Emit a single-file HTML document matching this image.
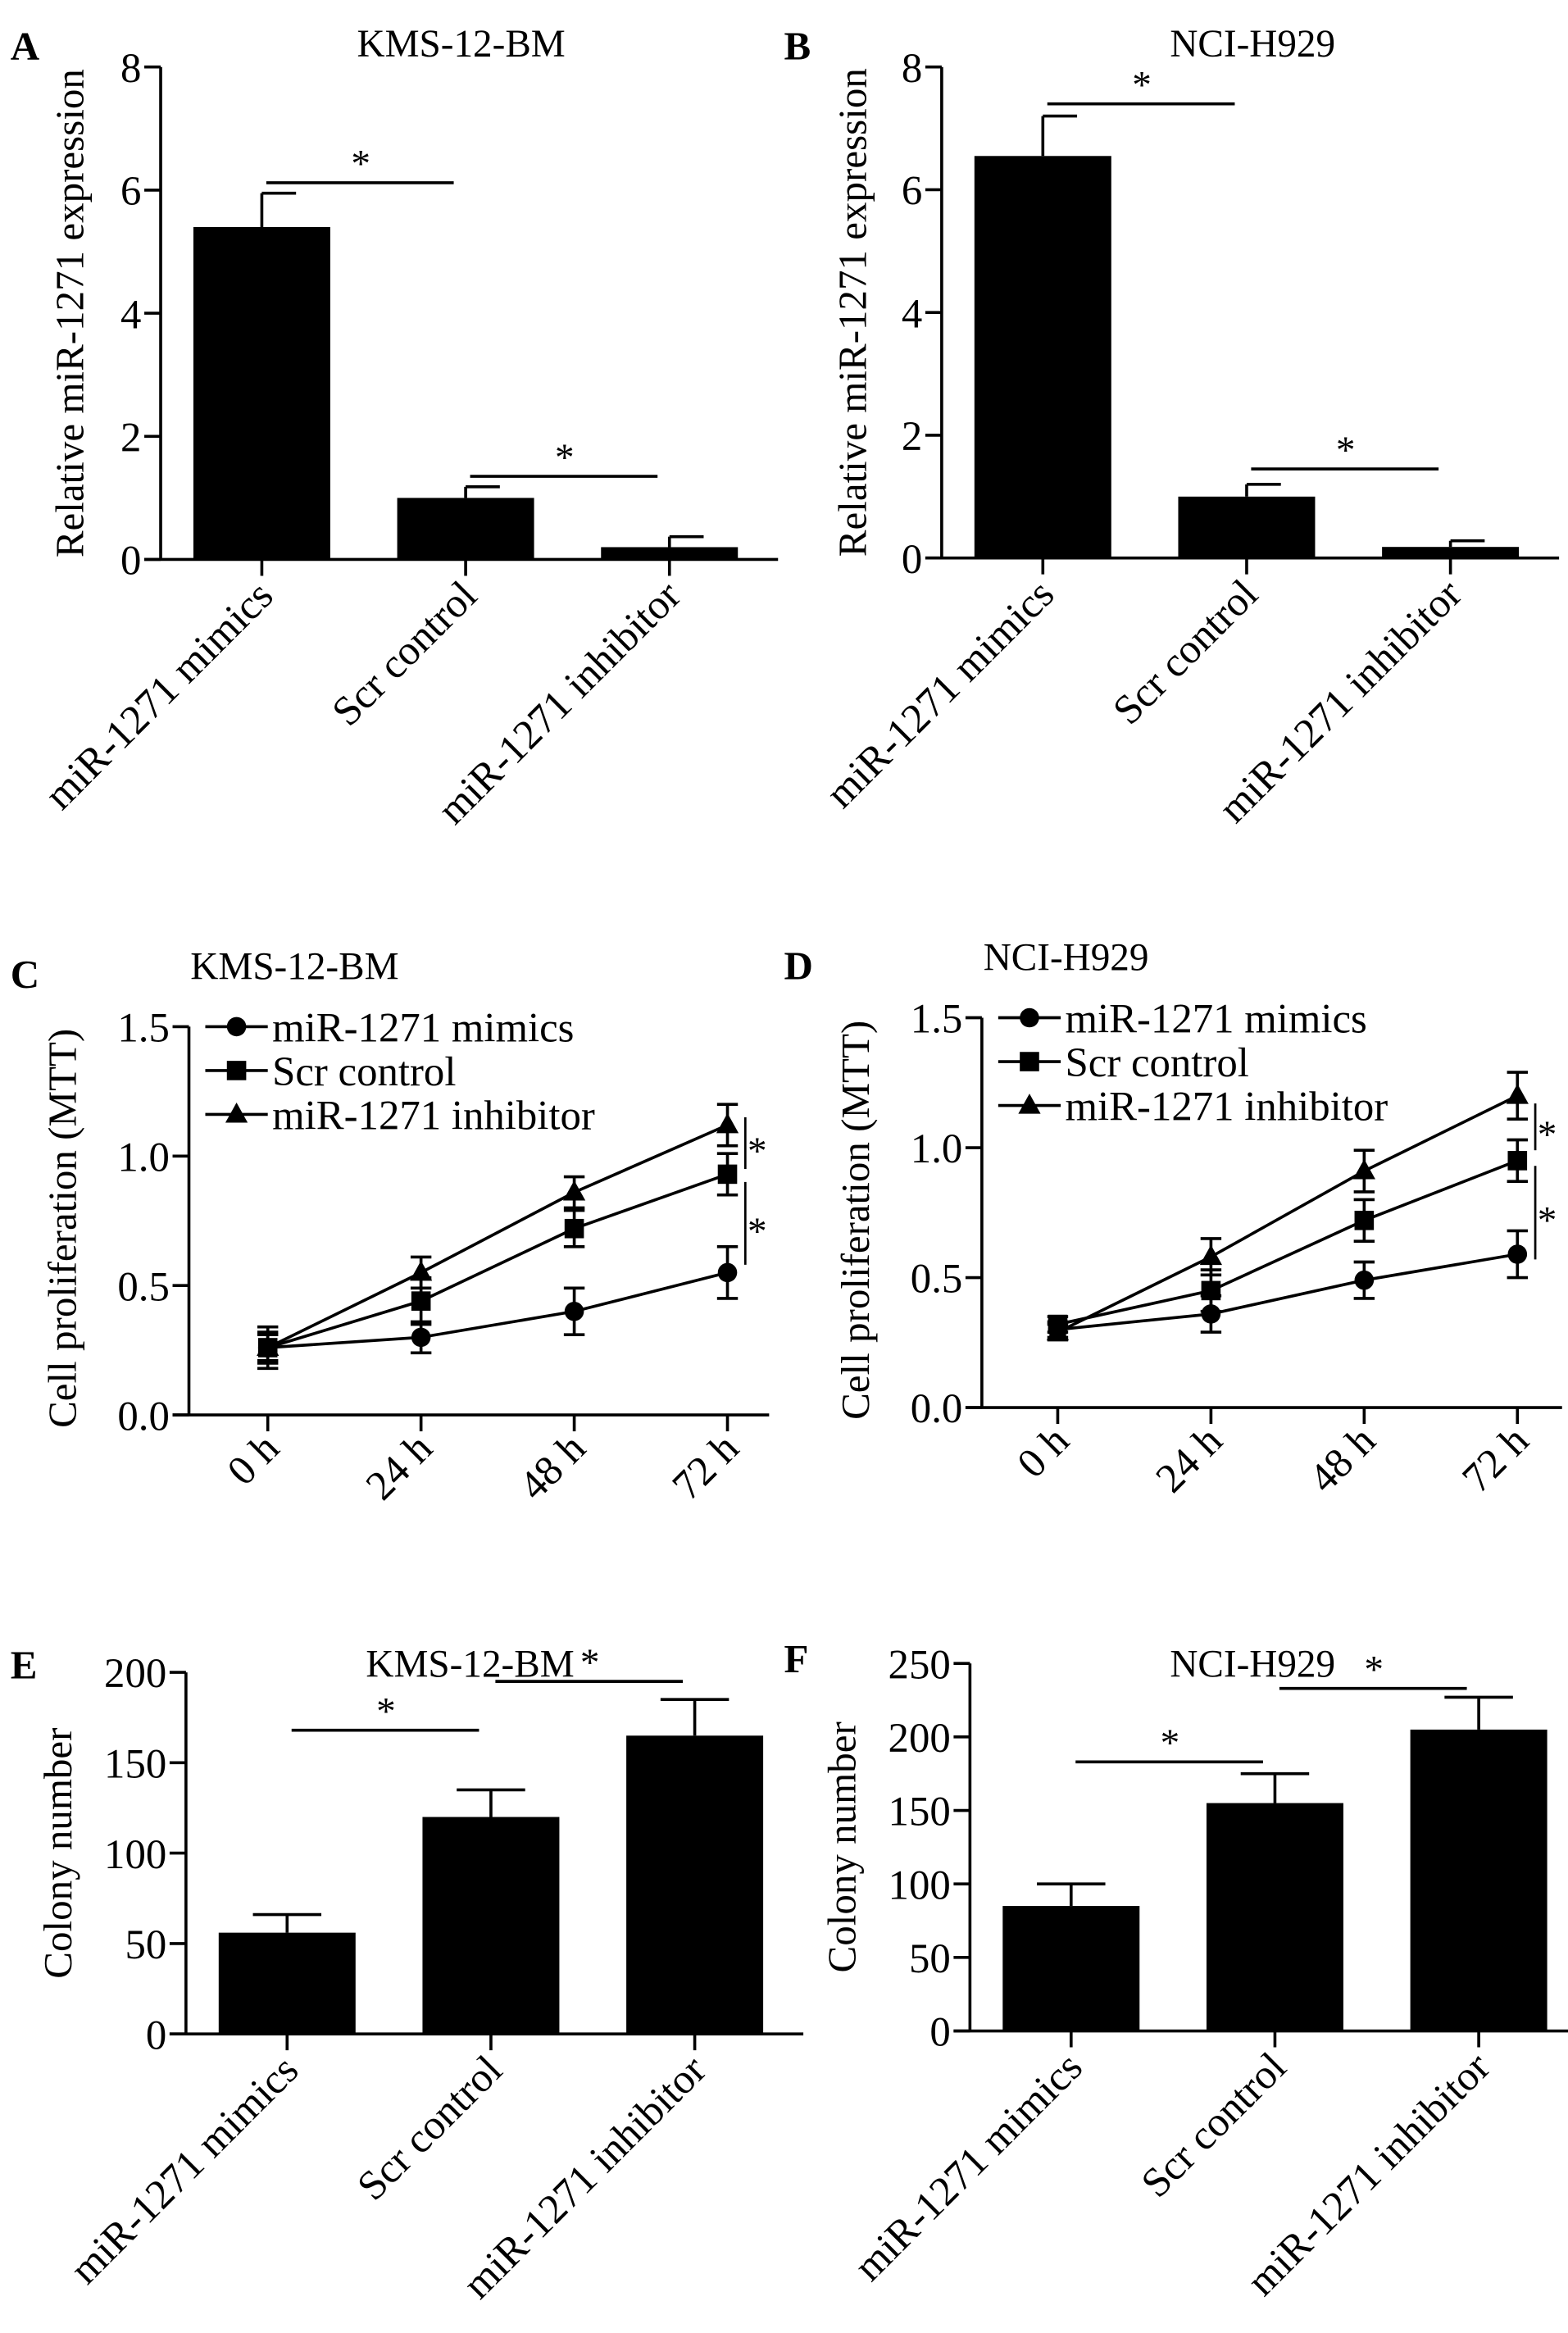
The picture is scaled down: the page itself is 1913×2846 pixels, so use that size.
<!DOCTYPE html>
<html><head><meta charset="utf-8"><style>
html,body{margin:0;padding:0;background:#fff}
svg{display:block}
text{font-family:"Liberation Serif",serif;fill:#000}
</style></head><body>
<svg id="fig" width="1913" height="2846" viewBox="0 0 1054 1568" xmlns="http://www.w3.org/2000/svg"></svg>
<script>
// ---- data ----
const barCategories = ["miR-1271 mimics","Scr control","miR-1271 inhibitor"];
const exprKMS = [5.4, 1.0, 0.2];
const exprKMSErr = [0.55, 0.18, 0.17];
const exprNCI = [6.55, 1.0, 0.18];
const exprNCIErr = [0.65, 0.2, 0.1];
const exprTicks = [0,2,4,6,8];
const timeLabels = ["0 h","24 h","48 h","72 h"];
const mttKMSMimics = [0.26,0.30,0.40,0.55];
const mttKMSMimicsErr = [0.06,0.06,0.09,0.10];
const mttKMSScr = [0.26,0.44,0.72,0.93];
const mttKMSScrErr = [0.08,0.09,0.07,0.08];
const mttKMSInh = [0.26,0.55,0.86,1.12];
const mttKMSInhErr = [0.05,0.06,0.06,0.08];
const mttNCIMimics = [0.30,0.36,0.49,0.59];
const mttNCIMimicsErr = [0.03,0.07,0.07,0.09];
const mttNCIScr = [0.32,0.45,0.72,0.95];
const mttNCIScrErr = [0.03,0.08,0.08,0.08];
const mttNCIInh = [0.29,0.58,0.91,1.20];
const mttNCIInhErr = [0.03,0.07,0.08,0.09];
const mttTicks = ["0.0","0.5","1.0","1.5"];
const colKMS = [56,120,165];
const colKMSErr = [10,15,20];
const colNCI = [85,155,205];
const colNCIErr = [15,20,22];
const colKMSTicks = [0,50,100,150,200];
const colNCITicks = [0,50,100,150,200,250];

const NS="http://www.w3.org/2000/svg";
const svg=document.getElementById('fig');
const FF='"Liberation Serif", serif';
function el(tag,attrs,parent){const e=document.createElementNS(NS,tag);for(const k in attrs)e.setAttribute(k,attrs[k]);(parent||svg).appendChild(e);return e;}
function txt(s,attrs,parent){attrs['font-family']=FF;const t=el('text',attrs,parent);t.textContent=s;return t;}

function barPanel(o){
  const g=el('g',{});
  
  
  const ymax=o.ticks[o.ticks.length-1];
  const Y=v=>o.y0-(v/ymax)*(o.y0-o.yTop);
  const X=i=>o.ax+68+i*137;
  const l=txt(o.letter,{x:o.lx,y:o.ly,'font-size':27,'font-weight':'bold'},g);
  
  const t=txt(o.title,{x:o.titleX,y:o.titleY,'font-size':26,'text-anchor':'middle'},g);
  
  o.vals.forEach((v,i)=>{
    const r=el('rect',{x:X(i)-46,y:Y(v),width:92,height:o.y0-Y(v),fill:'#000'},g);
    
    const top=Y(v+o.errs[i]);
    el('line',{x1:X(i),x2:X(i),y1:Y(v),y2:top,stroke:'#000','stroke-width':2},g);
    const c1=o.capMode==='right'?X(i):X(i)-23;
    el('line',{x1:c1,x2:X(i)+23,y1:top,y2:top,stroke:'#000','stroke-width':2},g);
  });
  const ya=el('line',{x1:o.ax,x2:o.ax,y1:o.yTop,y2:o.y0,stroke:'#000','stroke-width':2},g);
  
  const xa=el('line',{x1:o.ax-11,x2:o.ax+415,y1:o.y0,y2:o.y0,stroke:'#000','stroke-width':2},g);
  
  o.ticks.forEach(v=>{
    el('line',{x1:o.ax-11,x2:o.ax,y1:Y(v),y2:Y(v),stroke:'#000','stroke-width':2},g);
    const tl=txt(String(v),{x:o.ax-13,y:Y(v)+10,'font-size':28,'text-anchor':'end'},g);
    
  });
  barCategories.forEach((c,i)=>{
    el('line',{x1:X(i),x2:X(i),y1:o.y0,y2:o.y0+11,stroke:'#000','stroke-width':2},g);
    const px=X(i)+9,py=o.y0+26;
    const tl=txt(c,{x:px,y:py,'font-size':28,'text-anchor':'end',transform:`rotate(-45 ${px} ${py})`},g);
    
  });
  const yt=txt(o.ytitle,{x:0,y:0,'font-size':27,'text-anchor':'middle',transform:`translate(${o.ytX} ${(o.yTop+o.y0)/2}) rotate(-90)`},g);
  
  o.sig.forEach(s=>{
    const y=Y(s.v);
    const sl=el('line',{x1:X(s.a)+3,x2:X(s.b)-8,y1:y,y2:y,stroke:'#000','stroke-width':2},g);
    
    txt('*',{x:(X(s.a)+X(s.b))/2-2,y:y-4,'font-size':26,'text-anchor':'middle'},g);
  });
}

barPanel({name:'panel-a',letter:'A',lx:7,ly:40,title:'KMS-12-BM',titleX:310,titleY:38,ax:108,y0:376,yTop:45,ticks:exprTicks,vals:exprKMS,errs:exprKMSErr,capMode:'right',ytitle:'Relative miR-1271 expression',ytX:56,sig:[{a:0,b:1,v:6.12},{a:1,b:2,v:1.35}]});
barPanel({name:'panel-b',letter:'B',lx:527,ly:40,title:'NCI-H929',titleX:842,titleY:38,ax:633,y0:375,yTop:45,ticks:exprTicks,vals:exprNCI,errs:exprNCIErr,capMode:'right',ytitle:'Relative miR-1271 expression',ytX:582,sig:[{a:0,b:1,v:7.4},{a:1,b:2,v:1.45}]});
barPanel({name:'panel-e',letter:'E',lx:7,ly:1128,title:'KMS-12-BM',titleX:316,titleY:1127,ax:125,y0:1367,yTop:1124,ticks:colKMSTicks,vals:colKMS,errs:colKMSErr,capMode:'center',ytitle:'Colony number',ytX:48,sig:[{a:0,b:1,v:168},{a:1,b:2,v:195}]});
barPanel({name:'panel-f',letter:'F',lx:527,ly:1124,title:'NCI-H929',titleX:842,titleY:1127,ax:652,y0:1365,yTop:1118,ticks:colNCITicks,vals:colNCI,errs:colNCIErr,capMode:'center',ytitle:'Colony number',ytX:575,sig:[{a:0,b:1,v:183},{a:1,b:2,v:233}]});

function linePanel(o){
  const g=el('g',{});
  
  
  const Y=v=>o.y0-(v/1.5)*(o.y0-o.yTop);
  const X=i=>o.ax+o.off+i*103;
  const l=txt(o.letter,{x:o.lx,y:o.yTop-26,'font-size':27,'font-weight':'bold'},g);
  
  const t=txt(o.title,{x:o.ax+1,y:o.yTop-32,'font-size':26},g);
  
  const ya=el('line',{x1:o.ax,x2:o.ax,y1:o.yTop,y2:o.y0,stroke:'#000','stroke-width':2},g);
  
  const xa=el('line',{x1:o.ax-11,x2:o.ax+390,y1:o.y0,y2:o.y0,stroke:'#000','stroke-width':2},g);
  
  mttTicks.forEach(s=>{const v=parseFloat(s);
    el('line',{x1:o.ax-11,x2:o.ax,y1:Y(v),y2:Y(v),stroke:'#000','stroke-width':2},g);
    const tl=txt(s,{x:o.ax-13,y:Y(v)+10,'font-size':28,'text-anchor':'end'},g);
    
  });
  timeLabels.forEach((s,i)=>{
    el('line',{x1:X(i),x2:X(i),y1:o.y0,y2:o.y0+11,stroke:'#000','stroke-width':2},g);
    const px=X(i)+9,py=o.y0+24;
    const tl=txt(s,{x:px,y:py,'font-size':28,'text-anchor':'end',transform:`rotate(-45 ${px} ${py})`},g);
    
  });
  const yt=txt('Cell proliferation (MTT)',{x:0,y:0,'font-size':27,'text-anchor':'middle',transform:`translate(${o.ax-76} ${(o.yTop+o.y0)/2+5}) rotate(-90)`},g);
  
  const names=['miR-1271 mimics','Scr control','miR-1271 inhibitor'];
  const marker=(k,x,y,gg)=>{
    if(k===0) return el('circle',{cx:x,cy:y,r:6.5,fill:'#000'},gg);
    if(k===1) return el('rect',{x:x-6.5,y:y-6.5,width:13,height:13,fill:'#000'},gg);
    return el('polygon',{points:`${x},${y-8} ${x+7.5},${y+5.5} ${x-7.5},${y+5.5}`,fill:'#000'},gg);
  };
  o.series.forEach((s,k)=>{
    const sg=el('g',{},g);
    
    
    el('polyline',{points:s.v.map((v,i)=>X(i)+','+Y(v)).join(' '),fill:'none',stroke:'#000','stroke-width':2},sg);
    s.v.forEach((v,i)=>{
      const a=Y(v+s.e[i]),b=Y(v-s.e[i]);
      el('line',{x1:X(i),x2:X(i),y1:a,y2:b,stroke:'#000','stroke-width':2},sg);
      el('line',{x1:X(i)-7,x2:X(i)+7,y1:a,y2:a,stroke:'#000','stroke-width':2},sg);
      el('line',{x1:X(i)-7,x2:X(i)+7,y1:b,y2:b,stroke:'#000','stroke-width':2},sg);
      const m=marker(k,X(i),Y(v),sg);
      
      
    });
    const lg=el('g',{},g);
    
    
    const ly=o.yTop+k*29.5;
    el('line',{x1:o.ax+11,x2:o.ax+53,y1:ly,y2:ly,stroke:'#000','stroke-width':2},lg);
    marker(k,o.ax+32,ly,lg);
    txt(names[k],{x:o.ax+56,y:ly+10,'font-size':28},lg);
  });
  const sx=o.ax+o.off+3*103+12;
  o.sig.forEach(s=>{
    const sl=el('line',{x1:sx,x2:sx,y1:Y(s.a),y2:Y(s.b),stroke:'#000','stroke-width':1.5},g);
    
    txt('*',{x:sx+8,y:(Y(s.a)+Y(s.b))/2+14,'font-size':26,'text-anchor':'middle'},g);
  });
}
linePanel({name:'panel-c',letter:'C',lx:7,title:'KMS-12-BM',ax:127,off:53,y0:951,yTop:690,
  series:[{v:mttKMSMimics,e:mttKMSMimicsErr},{v:mttKMSScr,e:mttKMSScrErr},{v:mttKMSInh,e:mttKMSInhErr}],
  sig:[{a:1.15,b:0.95},{a:0.9,b:0.58}]});
linePanel({name:'panel-d',letter:'D',lx:527,title:'NCI-H929',ax:660,off:51,y0:946,yTop:684,
  series:[{v:mttNCIMimics,e:mttNCIMimicsErr},{v:mttNCIScr,e:mttNCIScrErr},{v:mttNCIInh,e:mttNCIInhErr}],
  sig:[{a:1.17,b:0.99},{a:0.93,b:0.57}]});
</script>
</body></html>
